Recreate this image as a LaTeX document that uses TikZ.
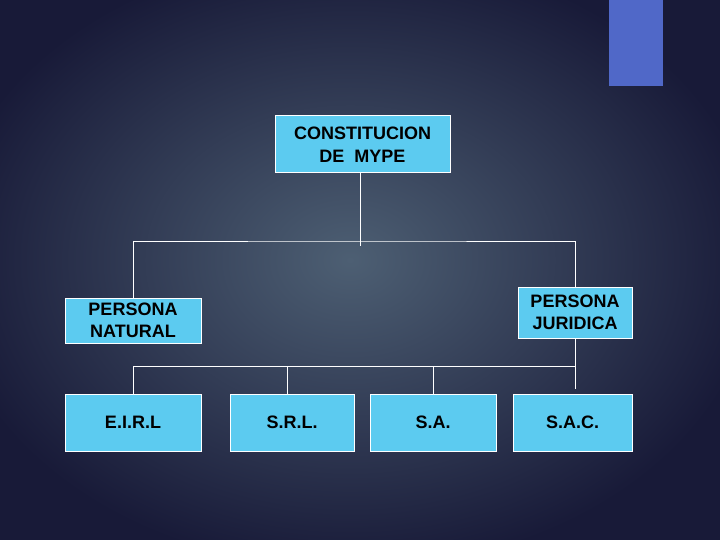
\documentclass[tikz,border=0pt]{standalone}
\usepackage{fontspec}
\setmainfont{Liberation Sans}
\definecolor{fondoin}{HTML}{4D5F73}
\definecolor{fondoout}{HTML}{181A38}
\definecolor{cajaazul}{HTML}{5CCBF0}
\definecolor{barra}{HTML}{5068C8}
\begin{document}
\begin{tikzpicture}[
  x=1pt, y=-1pt,
  caja/.style={draw=white, fill=cajaazul, line width=1pt, inner sep=0pt, align=center,
    font=\fontsize{18}{22.5}\selectfont\bfseries, text=black},
  linea/.style={draw=white, line width=1pt}
]
  \useasboundingbox (0,0) rectangle (720,540);

  % Fondo con degradado radial y barra azul superior
  \shade[inner color=fondoin, outer color=fondoout] (-60,-50) rectangle (760,570);
  \fill[barra] (609,0) rectangle (663,86);

  % Cajas del organigrama
  \node[caja, minimum width=175, minimum height=57] (mype) at (362.5,144.5) {CONSTITUCION\\DE\ \ MYPE};
  \node[caja, minimum width=136, minimum height=45] (natural) at (133,320.5) {PERSONA\\NATURAL};
  \node[caja, minimum width=114, minimum height=51] (juridica) at (575,312.5) {PERSONA\\JURIDICA};
  \foreach \nom/\cx/\ancho/\txt in {eirl/133/136/E.I.R.L, srl/292/124/S.R.L., sa/433/126/S.A., sac/572.5/119/S.A.C.} {
    \node[caja, minimum width=\ancho, minimum height=57] (\nom) at (\cx,422.5) {\txt};
  }

  % Puntos de union
  \coordinate (tronco) at (360,246);
  \coordinate (finjur) at (575,389);

  % Conectores
  \draw[linea] (mype.south -| tronco) -- (tronco);
  \draw[linea] (natural.north) |- (360,241) -| (juridica.north);
  \draw[linea] (juridica.south) -- (finjur);
  \draw[linea] (eirl.north) |- (575,366);
  \draw[linea] (srl.north -| 287,0) -- (287,366);
  \draw[linea] (sa.north) -- (433,366);
\end{tikzpicture}
\end{document}
